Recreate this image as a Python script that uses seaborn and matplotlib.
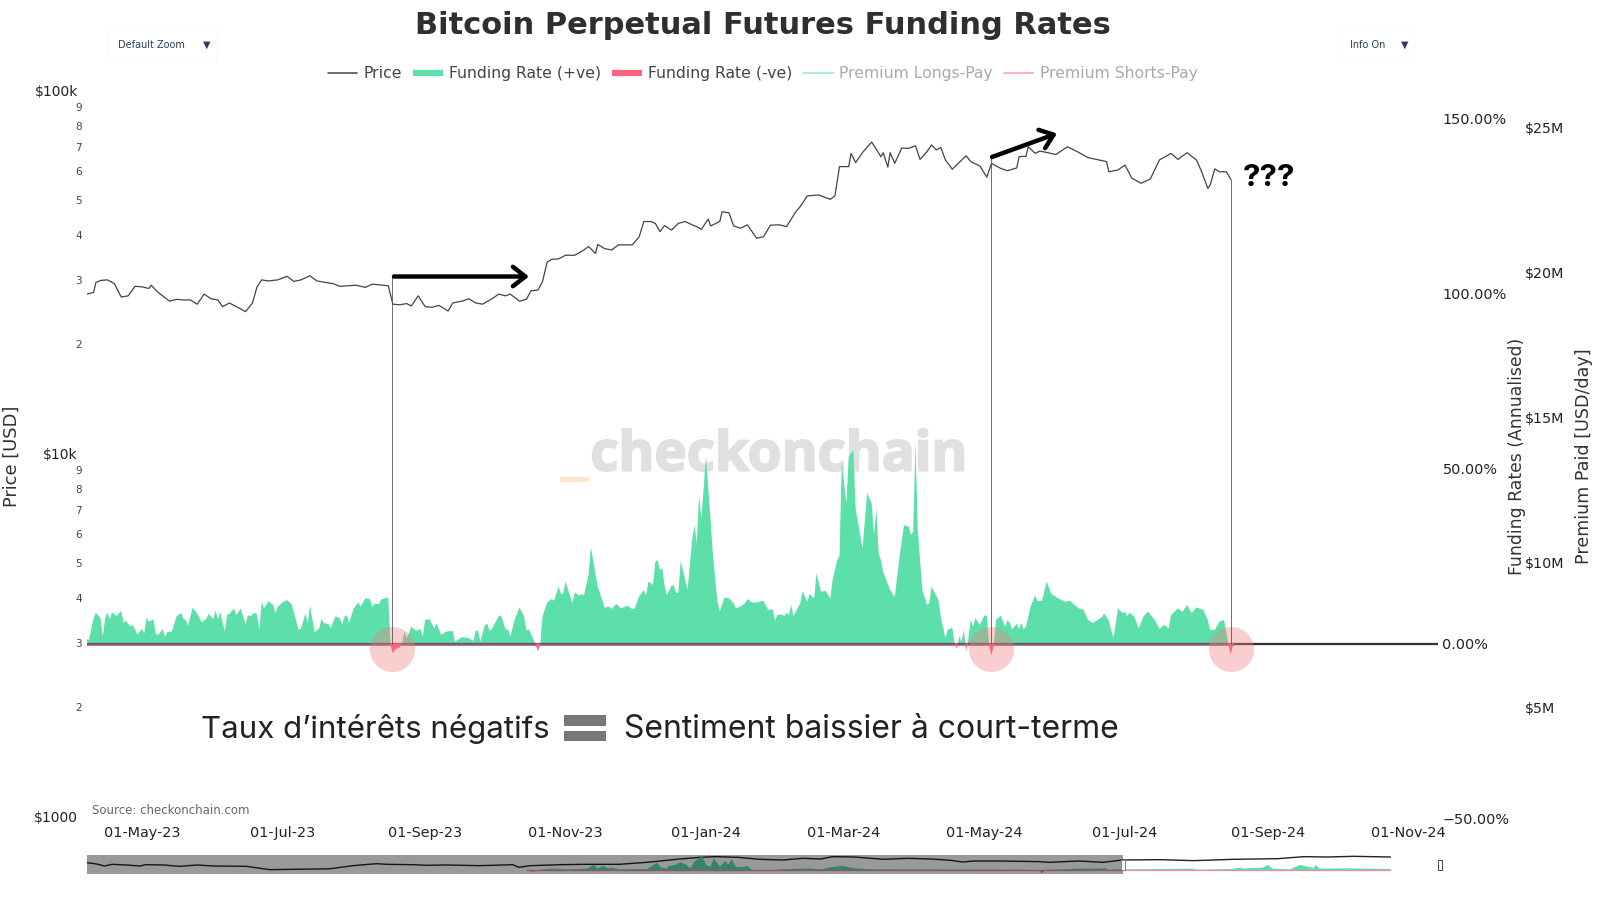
import numpy as np
import pandas as pd
import matplotlib
matplotlib.use("Agg")
import matplotlib.pyplot as plt
import seaborn as sns
import matplotlib.patheffects as pe
from matplotlib.lines import Line2D
from matplotlib.patches import Rectangle

# Main chart data, days counted from the first date
start_date = pd.Timestamp("2023-04-07")

price_days = [0, 3, 4, 6, 9, 12, 15, 18, 21, 24, 27, 28, 31, 34, 36, 39, 42, 45, 48, 51, 54, 57, 59, 62, 65, 69, 72, 74, 76, 79,
              83, 87, 90, 93, 97, 100, 104, 107, 110, 117, 121, 124, 131, 133, 136, 139, 141, 144, 147, 150, 153, 157, 159,
              163, 166, 169, 172, 176, 179, 182, 184, 188, 191, 193, 196, 198, 200, 202, 205, 208, 212, 216, 218, 221, 222,
              225, 228, 231, 237, 240, 242, 245, 247, 249, 251, 254, 257, 260, 263, 265, 267, 270, 271, 275, 276, 279, 281,
              284, 287, 289, 291, 294, 297, 301, 304, 308, 310, 313, 318, 323, 325, 327, 331, 332, 334, 337, 341, 345, 346,
              348, 349, 351, 354, 357, 360, 362, 365, 367, 369, 371, 373, 376, 382, 384, 388, 391, 393, 397, 400, 404, 405,
              408, 409, 412, 414, 418, 421, 426, 430, 435, 443, 444, 448, 451, 454, 458, 462, 466, 471, 474, 478, 482, 484,
              487, 488, 490, 492, 495, 497]
price_values = [27500, 27800, 29600, 30000, 30100, 29400, 27000, 27200, 28900, 28800, 28500, 29100, 27800, 26900, 26300, 26600,
                26500, 26500, 25800, 27500, 26700, 26500, 25400, 26000, 25400, 24600, 26000, 28800, 30100, 29900, 30100, 30800,
                29800, 30100, 30900, 29900, 29600, 29400, 28900, 29100, 28700, 29300, 29000, 25800, 25700, 25900, 25500, 27200,
                25400, 25300, 25600, 24700, 26000, 26300, 26700, 26000, 25800, 26700, 27500, 27200, 27500, 26300, 26600, 28100,
                28200, 29800, 33700, 34300, 34400, 35200, 35200, 36400, 37200, 35600, 37700, 36700, 36400, 37600, 37600, 39600,
                43600, 43600, 43100, 40900, 42500, 41300, 43100, 43600, 42700, 42200, 41500, 44300, 42400, 43600, 46400, 46100,
                42400, 41800, 42700, 40900, 39200, 39600, 42600, 42700, 42200, 46400, 48000, 51300, 51600, 50200, 51300, 61800,
                61800, 67200, 63400, 67600, 72200, 65800, 67500, 61600, 67500, 63100, 69500, 69400, 70500, 64700, 68000, 70900,
                68700, 69700, 64500, 60800, 66200, 63800, 62000, 57800, 63100, 61100, 60200, 61300, 65800, 66000, 70100, 67200,
                68200, 67400, 66700, 70100, 68100, 65400, 63800, 59800, 60500, 62400, 57400, 55600, 57100, 64500, 67200, 64700,
                67500, 64500, 60500, 53800, 55000, 60900, 59800, 59800, 57000]

funding_days = [0, 1, 3, 4, 6, 7, 8, 9, 10, 11, 13, 15, 16, 17, 19, 20, 22, 24, 25, 26, 27, 29, 30, 31, 33, 34, 35, 37, 39, 41,
                42, 43, 44, 46, 48, 50, 52, 53, 55, 56, 57, 58, 60, 61, 62, 64, 65, 67, 69, 70, 71, 73, 74, 75, 76, 77, 79, 81,
                82, 83, 85, 87, 89, 92, 93, 95, 96, 97, 99, 101, 102, 103, 105, 106, 108, 110, 111, 112, 113, 114, 116, 118,
                119, 121, 123, 124, 125, 127, 128, 131, 132, 133, 134, 136, 137, 138, 139, 140, 141, 143, 145, 146, 147, 149,
                151, 152, 154, 156, 159, 160, 163, 166, 168, 169, 170, 171, 173, 174, 175, 176, 179, 180, 182, 183, 184, 186,
                188, 190, 191, 192, 194, 195, 196, 197, 198, 200, 202, 203, 205, 206, 207, 208, 211, 212, 214, 215, 216, 218,
                219, 222, 223, 225, 227, 228, 230, 232, 235, 237, 238, 240, 242, 243, 244, 246, 247, 248, 249, 250, 251, 252,
                254, 255, 256, 257, 258, 259, 261, 263, 264, 265, 266, 267, 269, 271, 272, 274, 275, 277, 279, 281, 282, 284,
                286, 287, 289, 291, 294, 296, 298, 299, 300, 302, 303, 304, 305, 306, 307, 310, 311, 313, 314, 316, 317, 319,
                321, 323, 324, 326, 327, 328, 330, 331, 333, 334, 337, 339, 341, 342, 343, 344, 345, 346, 349, 351, 353, 355,
                357, 358, 359, 360, 361, 362, 363, 365, 366, 367, 370, 371, 373, 374, 376, 377, 378, 379, 380, 381, 382, 383,
                384, 385, 386, 388, 390, 391, 392, 393, 394, 395, 397, 399, 400, 401, 402, 404, 405, 406, 407, 408, 410, 412,
                413, 415, 417, 419, 422, 425, 427, 431, 433, 435, 437, 441, 442, 444, 446, 448, 450, 451, 452, 453, 455, 457,
                459, 461, 464, 466, 468, 470, 471, 474, 476, 478, 480, 482, 485, 487, 488, 490, 492, 494, 496, 497, 498]
funding_values = [1.3, 1.1, 7.3, 8.9, 7.3, 2.0, 7.3, 8.9, 7.0, 9.0, 7.9, 9.4, 6.0, 6.6, 4.9, 5.4, 2.7, 4.2, 3.0, 7.5, 6.3, 7.0,
                  2.8, 2.5, 4.2, 2.0, 3.3, 3.5, 7.8, 8.8, 7.1, 6.8, 5.2, 10.3, 8.7, 6.1, 7.2, 8.5, 7.1, 9.5, 7.0, 9.0, 3.5, 8.3,
                  8.5, 10.1, 8.2, 10.1, 5.4, 8.2, 7.9, 8.9, 8.4, 4.0, 12.0, 10.1, 12.2, 11.1, 8.7, 10.6, 11.8, 12.5, 11.3, 4.1,
                  4.2, 8.7, 5.9, 10.9, 3.3, 4.4, 7.1, 5.9, 5.6, 4.4, 7.8, 7.3, 5.4, 7.8, 8.1, 6.0, 10.1, 11.8, 10.6, 13.0, 12.8,
                  10.6, 11.4, 11.4, 12.7, 13.2, -0.5, -2.7, -1.6, -1.0, 0.1, 3.5, 1.6, 3.0, 4.9, 3.7, 4.2, 2.0, 6.8, 7.0, 4.4,
                  5.9, 2.5, 3.5, 3.7, 0.6, 1.9, 1.6, 0.8, 3.8, 3.7, 0.6, 5.4, 5.7, 3.7, 4.2, 7.9, 8.1, 4.0, 4.2, 2.0, 7.1, 10.4,
                  7.8, 3.8, 4.2, 1.4, -0.2, -2.2, -0.2, 7.8, 11.8, 12.8, 12.3, 16.3, 14.2, 14.4, 17.7, 11.6, 14.7, 13.8, 14.2, 13.8,
                  19.7, 27.6, 16.3, 14.4, 10.3, 10.6, 9.9, 11.4, 10.1, 10.9, 9.9, 10.1, 13.5, 15.4, 13.8, 17.8, 16.8, 23.5, 23.9,
                  21.1, 21.6, 16.8, 13.9, 16.5, 16.8, 14.6, 14.6, 23.5, 21.1, 15.4, 29.7, 33.9, 28.7, 42.2, 35.8, 53.5, 35.4,
                  25.8, 12.0, 9.2, 13.2, 13.0, 11.6, 10.1, 10.6, 11.6, 12.8, 11.8, 11.8, 12.3, 9.7, 9.8, 6.6, 8.2, 8.4, 7.9, 8.9,
                  8.2, 11.1, 7.9, 11.6, 15.1, 12.0, 14.2, 13.0, 20.1, 14.9, 15.1, 13.0, 18.2, 23.9, 25.1, 52.0, 40.1, 53.5, 55.4,
                  38.7, 27.3, 43.0, 40.1, 31.1, 38.7, 25.8, 23.9, 20.6, 15.4, 13.3, 24.4, 33.9, 33.5, 31.1, 32.0, 57.5, 32.5,
                  23.9, 15.4, 11.1, 11.6, 16.3, 12.5, 7.8, 1.6, 4.0, 4.6, 0.1, -1.4, 2.2, 0.5, 4.0, -2.2, 1.5, 6.8, 4.9, 7.3, 5.4,
                  8.2, 7.8, -0.5, -3.4, -0.3, 6.8, 8.0, 4.9, 6.8, 5.9, 4.1, 5.7, 4.2, 6.0, 4.1, 4.9, 10.6, 13.8, 12.2, 12.3, 17.8,
                  14.2, 13.0, 12.0, 12.3, 10.1, 9.7, 6.8, 5.9, 7.6, 8.7, 6.6, 1.6, 10.1, 8.7, 9.2, 7.8, 8.9, 7.8, 4.4, 7.8, 9.2,
                  6.8, 4.2, 5.4, 4.4, 8.2, 10.1, 9.2, 11.1, 8.7, 10.4, 9.7, 6.8, 4.0, 4.0, 6.3, 6.8, -0.5, -3.0, -0.1]

# Marked negative funding days and where their guide lines stop on the price axis
event_days = [132.7, 393, 497]
event_tops = [30900, 66100, 57000]

# Range slider data covers the longer history
mini_years = [2018.01, 2018.06, 2018.10, 2018.14, 2018.21, 2018.28, 2018.31, 2018.40, 2018.48, 2018.57, 2018.65, 2018.82, 2018.89,
              2018.94, 2019.06, 2019.24, 2019.36, 2019.48, 2019.53, 2019.66, 2019.73, 2019.83, 2020.0, 2020.17, 2020.20, 2020.26,
              2020.41, 2020.54, 2020.71, 2020.85, 2021.0, 2021.12, 2021.20, 2021.31, 2021.42, 2021.54, 2021.64, 2021.73, 2021.79,
              2021.90, 2022.05, 2022.17, 2022.29, 2022.39, 2022.45, 2022.51, 2022.64, 2022.84, 2022.89, 2023.04, 2023.16, 2023.26,
              2023.45, 2023.62, 2023.82, 2024.05, 2024.18, 2024.30, 2024.43, 2024.62]
mini_prices = [16600, 12300, 7800, 11400, 9800, 7800, 10500, 9800, 7200, 9800, 7800, 7200, 4600,
               3400, 3700, 4100, 8400, 13200, 11400, 10500, 9100, 9800, 8400, 10500, 5800, 8400,
               10500, 11400, 11400, 17900, 35300, 55500, 64600, 55500, 35300, 30300, 44300, 38000, 64600,
               59800, 35300, 44300, 38000, 28100, 19300, 24200, 24200, 20800, 17900, 24200, 17900, 30300,
               32700, 26100, 35300, 41000, 64600, 59800, 69700, 59800]
mini_fund_years = [2020.24, 2020.27, 2020.31, 2020.37, 2020.43, 2020.52, 2020.55, 2020.58, 2020.60, 2020.63, 2020.65, 2020.67,
                   2020.71, 2020.85, 2020.87, 2020.90, 2020.92, 2020.95, 2020.96, 2020.99, 2021.02, 2021.05, 2021.07, 2021.09,
                   2021.13, 2021.15, 2021.17, 2021.19, 2021.22, 2021.25, 2021.26, 2021.28, 2021.30, 2021.33, 2021.36, 2021.38,
                   2021.40, 2021.42, 2021.48, 2021.50, 2021.53, 2021.66, 2021.73, 2021.78, 2021.84, 2021.90, 2021.98, 2022.64,
                   2022.84, 2022.85, 2022.87, 2023.03, 2023.18, 2023.19, 2023.20, 2023.28, 2023.45, 2023.62, 2023.64, 2023.81,
                   2023.86, 2023.87, 2023.92, 2023.97, 2024.0, 2024.02, 2024.11, 2024.16, 2024.20, 2024.23, 2024.24, 2024.26,
                   2024.40, 2024.62]
mini_fund_values = [0, -12, 2.4, 9.5, 4.8, 7, 12, 38, 12, 29, 12, 17,
                    4.8, 7, 24, 52, 19, 9.5, 29, 36, 55, 38, 12, 60,
                    100, 36, 24, 83, 24, 67, 36, 76, 24, 19, 29, 4.8,
                    -10, 2, -7, 1, 4.8, 12, 4.8, 19, 29, 12, 4.8, 2.4,
                    1, -24, 1, 9.5, 12, -10, 3, 4.8, 7, 9.5, 2.4, 7,
                    17, 9.5, 14, 17, 36, 9.5, 4.8, 36, 24, 14, 36, 9.5,
                    12, 7]

# Axis labels
date_ticks = pd.date_range("2023-05-01", "2024-11-01", freq="2MS")
price_major = [1000, 10000, 100000]
price_major_labels = ["$1000", "$10k", "$100k"]
price_minor = [2000, 3000, 4000, 5000, 6000, 7000, 8000, 9000, 20000, 30000, 40000, 50000, 60000, 70000, 80000, 90000]
price_minor_labels = ["2", "3", "4", "5", "6", "7", "8", "9"] * 2
funding_ticks = [-50, 0, 50, 100, 150]
funding_labels = ["\u221250.00%", "0.00%", "50.00%", "100.00%", "150.00%"]
premium_ticks = [5, 10, 15, 20, 25]
premium_labels = ["$5M", "$10M", "$15M", "$20M", "$25M"]

sns.set_theme(style="white")
plt.rcParams["font.family"] = "DejaVu Sans"

GREEN = "#5ddfaa"
RED = "#fb6583"
TEXT = "#333333"


def fx(px):
    return px / 1600


def fy(py):
    return 1 - py / 900


def to_dates(days):
    return start_date + pd.to_timedelta(np.array(days), unit="D")


df_price = pd.DataFrame({"date": to_dates(price_days), "price": price_values})
df_funding = pd.DataFrame({"date": to_dates(funding_days), "rate": funding_values})
event_dates = to_dates(event_days)

fig = plt.figure(figsize=(16, 9), dpi=100, facecolor="white")
ax = fig.add_axes([fx(86.7), fy(825), fx(1350.9), 740 / 900])
ax2 = ax.twinx()
ax3 = ax.twinx()
ax2.set_zorder(1)
ax.set_zorder(2)
ax3.set_zorder(0)
for a in (ax, ax2, ax3):
    a.patch.set_visible(False)
    a.grid(False)
    for s in a.spines.values():
        s.set_visible(False)

# Funding area
ax2.fill_between(df_funding["date"], df_funding["rate"], 0, where=df_funding["rate"] >= 0, interpolate=True,
                 color=GREEN, lw=0)
ax2.axhline(0, color="#333333", lw=1.6)
ax2.plot([df_funding["date"].iloc[0], df_funding["date"].iloc[-1]], [0, 0], color="#8f5b6d", lw=1.8)
ax2.scatter(event_dates, [-1.5] * 3, s=1050, color="#ee7f7f", alpha=0.38, lw=0, zorder=5)
ax2.fill_between(df_funding["date"], df_funding["rate"], 0, where=df_funding["rate"] <= 0, interpolate=True,
                 color=RED, lw=0, zorder=6)
ax2.set_ylim(-51.8, 159.7)
ax2.set_yticks(funding_ticks, funding_labels)
ax2.tick_params(axis="y", length=0, pad=3.5, labelsize=10.4, labelcolor="#222222")

ax3.set_ylim(0.965, 26.46)
ax3.set_yticks(premium_ticks, premium_labels)
ax3.tick_params(axis="y", length=0, pad=63, labelsize=10.3, labelcolor="#222222")

# Price line
sns.lineplot(data=df_price, x="date", y="price", color="#444444", lw=0.9, estimator=None, errorbar=None, ax=ax)
ax.vlines(event_dates, 2985, event_tops, color="#555555", lw=0.6)
ax.set_yscale("log")
ax.set_ylim(945, 103750)
ax.set_xlim(start_date, start_date + pd.Timedelta(days=586.8))
ax.set_xticks(date_ticks, [d.strftime("%d-%b-%y") for d in date_ticks])
ax.set_yticks(price_major, price_major_labels)
ax.set_yticks(price_minor, price_minor_labels, minor=True)
ax.tick_params(axis="x", length=0, pad=1, labelsize=10.4, labelcolor="#222222")
ax.tick_params(axis="y", which="major", length=0, pad=6.3, labelsize=10, labelcolor="#222222")
ax.tick_params(axis="y", which="minor", length=0, pad=3.5, labelsize=7.5, labelcolor="#444444")
ax.set_xlabel("")
ax.set_ylabel("")

# Watermark sits behind the axes
fig.text(fx(779), fy(456), "checkonchain", fontfamily="Open Sans", fontweight="bold", fontsize=39.4, color="#e0e0e0",
         ha="center", va="center", zorder=-1, path_effects=[pe.withStroke(linewidth=1.5, foreground="#e0e0e0")])
fig.add_artist(Rectangle((fx(560), fy(482)), 29 / 1600, 5 / 900, color="#fde6c8", lw=0, zorder=-1))

# Titles and labels
fig.text(fx(763), fy(26), "Bitcoin Perpetual Futures Funding Rates", fontsize=22, fontweight="bold", color="#2f2f2f",
         ha="center", va="center")
fig.text(fx(12), fy(456), "Price [USD]", rotation=90, fontsize=12.9, color=TEXT, ha="center", va="center")
fig.text(fx(1517), fy(456), "Funding Rates (Annualised)", rotation=90, fontsize=12.4, color=TEXT, ha="center", va="center")
fig.text(fx(1584), fy(456), "Premium Paid [USD/day]", rotation=90, fontsize=12.6, color=TEXT, ha="center", va="center")
fig.text(fx(92), fy(810), "Source: checkonchain.com", fontsize=8.5, color="#666666", ha="left", va="center")

handles = [
    Line2D([], [], color="#555555", lw=1.2),
    Line2D([], [], color=GREEN, lw=4.5, solid_capstyle="butt"),
    Line2D([], [], color=RED, lw=4.5, solid_capstyle="butt"),
    Line2D([], [], color="#a5efd0", lw=1.5),
    Line2D([], [], color="#ffb3c0", lw=1.5),
]
names = ["Price", "Funding Rate (+ve)", "Funding Rate (-ve)", "Premium Longs-Pay", "Premium Shorts-Pay"]
leg = fig.legend(handles, names, ncol=5, loc="center", bbox_to_anchor=(fx(762.5), fy(73.5)), frameon=False, fontsize=11.25,
                 handlelength=1.9, handletextpad=0.4, columnspacing=0.7)
for text, col in zip(leg.get_texts(), ["#444444", "#444444", "#444444", "#aaaaaa", "#aaaaaa"]):
    text.set_color(col)

# Dropdown buttons
for x0, w, label, tx, ax_arrow in [(106.5, 109.5, "Default Zoom", 118, 207), (1338, 76, "Info On", 1350, 1405)]:
    fig.add_artist(Rectangle((fx(x0), fy(61)), w / 1600, 32 / 900, facecolor="white", edgecolor="#fafafa", lw=0.8))
    fig.text(fx(tx), fy(45), label, fontsize=7, color="#2a3f5f", ha="left", va="center")
    fig.text(fx(ax_arrow), fy(45), "\u25bc", fontsize=7, color="#2a3f5f", ha="center", va="center")

# Annotations added on top of the chart
arrow_style = dict(arrowstyle="->,head_length=0.45,head_width=0.35", color="black", lw=3.2, mutation_scale=20,
                   shrinkA=0, shrinkB=0)
ax.annotate("", xy=(fx(529), fy(276.5)), xytext=(fx(394), fy(276.5)), xycoords="figure fraction",
            textcoords="figure fraction", arrowprops=arrow_style)
ax.annotate("", xy=(fx(1057), fy(133.5)), xytext=(fx(992), fy(157)), xycoords="figure fraction",
            textcoords="figure fraction", arrowprops=arrow_style)
fig.text(fx(1243), fy(177.5), "???", fontfamily="Inter", fontweight="bold", fontsize=22.5, color="black", ha="left", va="center")
fig.text(fx(201), fy(729.5), "Taux d\u2019int\u00e9r\u00eats n\u00e9gatifs", fontfamily="Inter", fontsize=22.5, color="#222222",
         ha="left", va="center")
fig.text(fx(623.5), fy(729.5), "Sentiment baissier \u00e0 court-terme", fontfamily="Inter", fontsize=23, color="#222222",
         ha="left", va="center")
fig.add_artist(Rectangle((fx(564), fy(725.5)), 42 / 1600, 11 / 900, color="#777777", lw=0))
fig.add_artist(Rectangle((fx(564), fy(741)), 42 / 1600, 10 / 900, color="#777777", lw=0))

# Range slider
ax_m = fig.add_axes([fx(86.7), fy(874), fx(1304), 19 / 900])
ax_m2 = ax_m.twinx()
sns.lineplot(x=mini_years, y=mini_prices, color="#222222", lw=1.0, estimator=None, errorbar=None, ax=ax_m)
ax_m.set_yscale("log")
ax_m.set_ylim(1270, 94000)
ax_m.set_yticks([], minor=True)
ax_m.set_xlim(2018.01, 2024.62)
mini_fund = np.array(mini_fund_values, dtype=float)
ax_m2.fill_between(mini_fund_years, mini_fund, 0, where=mini_fund >= 0, interpolate=True, color=GREEN, lw=0)
ax_m2.fill_between(mini_fund_years, mini_fund, 0, where=mini_fund <= 0, interpolate=True, color="#e8728a", lw=0)
ax_m2.plot([2020.24, 2024.62], [0, 0], color="#ec8ea0", lw=0.9)
ax_m2.set_ylim(-28.6, 107)
ax_m2.axvspan(2018.01, 2023.265, color="black", alpha=0.4, lw=0, zorder=5)
for a in (ax_m, ax_m2):
    a.set_xticks([])
    a.set_yticks([])
    a.set_ylabel("")
    a.patch.set_visible(False)
    for s in a.spines.values():
        s.set_visible(False)
fig.add_artist(Rectangle((fx(1120.5), fy(870)), 4 / 1600, 10 / 900, facecolor="white", edgecolor="#888888", lw=0.8))
fig.add_artist(Rectangle((fx(1437.5), fy(870)), 4.5 / 1600, 10 / 900, facecolor="white", edgecolor="#444444", lw=0.7))

plt.savefig("out.png", dpi=100)
print(len(price_days), len(price_values), len(funding_days), len(funding_values), len(mini_years), len(mini_prices),
      len(mini_fund_years), len(mini_fund_values))
